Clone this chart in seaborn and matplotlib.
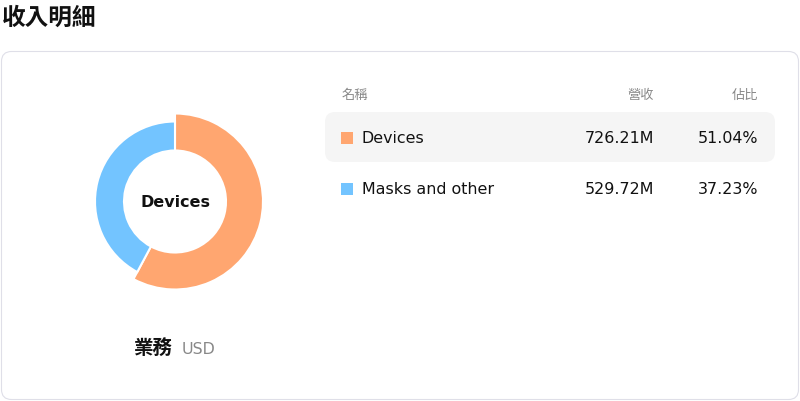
import matplotlib
matplotlib.use("Agg")
import matplotlib.pyplot as plt
from matplotlib.patches import FancyBboxPatch, Rectangle
import seaborn as sns

# data
segments = ["Devices", "Masks and other"]
revenue_m = [726.21, 529.72]
share_pct = [51.04, 37.23]
seg_colors = ["#FFA670", "#73C4FF"]

title = "收入明細"
headers = ["名稱", "營收", "佔比"]
center_label = "Devices"
footer_main = "業務"
footer_unit = "USD"

sns.set_theme(style="white")
plt.rcParams['font.family'] = ['DejaVu Sans', 'Noto Sans CJK TC']

W, H = 800, 402
fig = plt.figure(figsize=(W / 100, H / 100), dpi=100)
fig.patch.set_facecolor("white")

# background axes in pixel coordinates
bg = fig.add_axes([0, 0, 1, 1])
bg.set_xlim(0, W)
bg.set_ylim(H, 0)
bg.axis("off")

bg.text(1.5, 17.5, title, fontsize=17, fontweight="bold", color="#111111",
        ha="left", va="center")

card = FancyBboxPatch((1.5, 52.5), 797, 348, boxstyle="round,pad=0,rounding_size=10",
                      facecolor="white", edgecolor="#dfdfe8", linewidth=0.8)
bg.add_patch(card)

# table
col_name_x, col_rev_x, col_pct_x = 341.5, 654, 758.5
bg.text(col_name_x, 95, headers[0], fontsize=9.5, color="#888888", ha="left", va="center")
bg.text(col_rev_x, 95, headers[1], fontsize=9.5, color="#888888", ha="right", va="center")
bg.text(col_pct_x, 95, headers[2], fontsize=9.5, color="#888888", ha="right", va="center")

row_y = [138.5, 189.5]
hl = FancyBboxPatch((325, 113), 450, 50, boxstyle="round,pad=0,rounding_size=10",
                    facecolor="#f5f5f5", edgecolor="none")
bg.add_patch(hl)

for name, rev, pct, col, y in zip(segments, revenue_m, share_pct, seg_colors, row_y):
    bg.add_patch(Rectangle((341, y - 6), 12, 12, facecolor=col, edgecolor="none"))
    bg.text(361.5, y, name, fontsize=11.4, color="#111111", ha="left", va="center")
    bg.text(col_rev_x, y, f"{rev:.2f}M", fontsize=11.4, color="#111111", ha="right", va="center")
    bg.text(col_pct_x, y, f"{pct:.2f}%", fontsize=11.4, color="#111111", ha="right", va="center")

# footer under donut
bg.text(173, 349.5, footer_main, fontsize=14, fontweight="bold", color="#111111",
        ha="right", va="center")
bg.text(182, 349.5, footer_unit, fontsize=11.4, color="#888888", ha="left", va="center")

# donut
cx, cy, box = 175, 202.5, 200
ax = fig.add_axes([(cx - box / 2) / W, 1 - (cy + box / 2) / H, box / W, box / H])
ax.set_xlim(-1.25, 1.25)
ax.set_ylim(-1.25, 1.25)
ax.set_aspect("equal")
ax.axis("off")

r_outer = 1.0          # 80 px
r_inner = 51 / 80
wedges, _ = ax.pie(revenue_m, colors=seg_colors, startangle=90, counterclock=False,
                   radius=r_outer,
                   wedgeprops=dict(width=r_outer - r_inner, edgecolor="white", linewidth=1.5))
# highlighted slice sticks out
wedges[0].set_radius(88 / 80)
wedges[0].set_width(88 / 80 - r_inner)
ax.set_xlim(-1.25, 1.25)
ax.set_ylim(-1.25, 1.25)

ax.text(0, 0, center_label, fontsize=11.5, fontweight="bold", color="#111111",
        ha="center", va="center")

fig.savefig("out.png", dpi=100, facecolor="white")
